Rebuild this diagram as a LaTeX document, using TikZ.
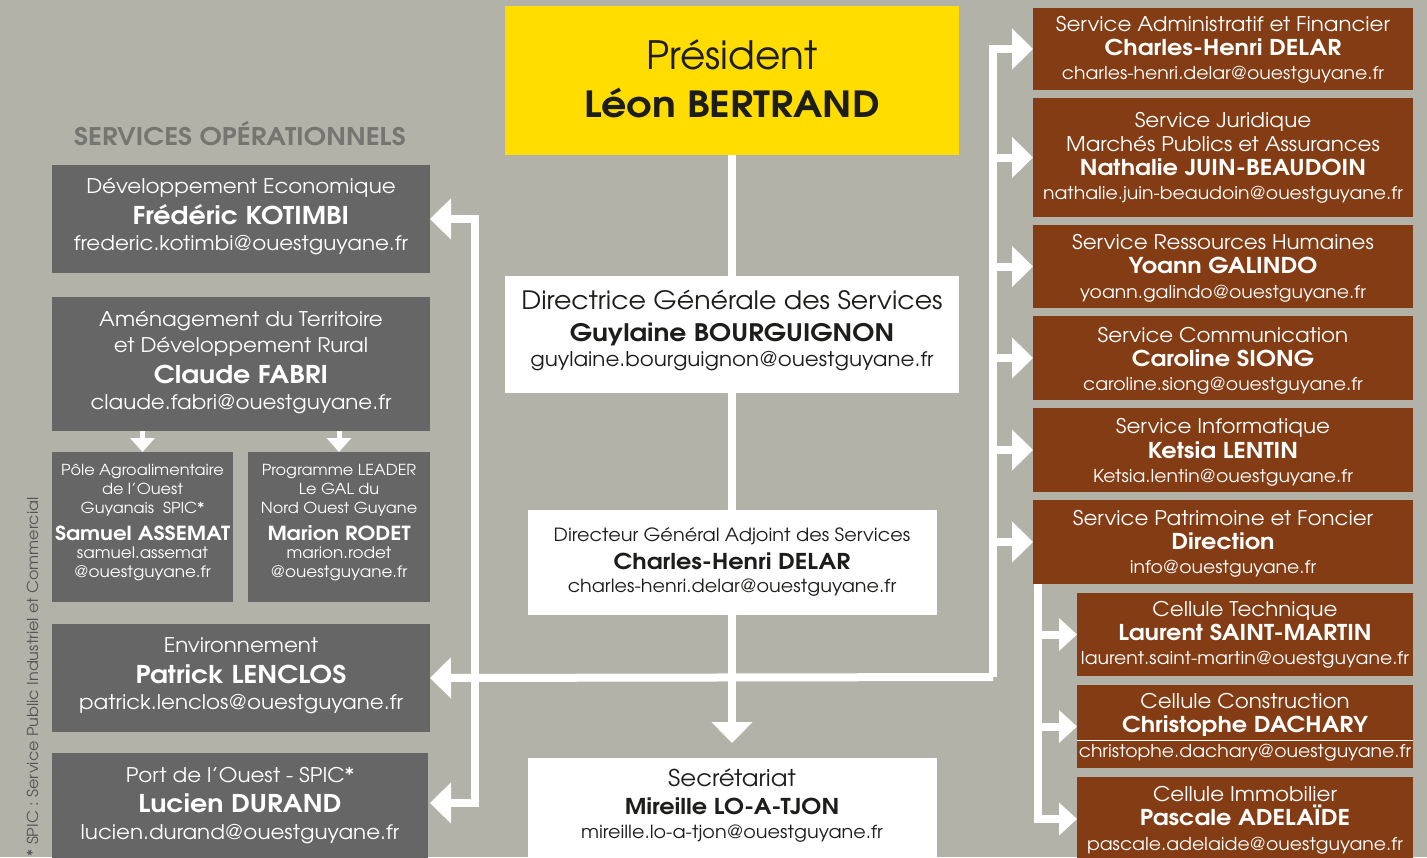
\documentclass[tikz,border=0pt]{standalone}
\usepackage{fontspec}
\setmainfont{texgyreadventor}[Extension=.otf, UprightFont=*-regular, BoldFont=*-bold, UprightFeatures={FakeStretch=1.06}, BoldFeatures={FakeStretch=1.1}]
\newfontfamily\plainfont{texgyreadventor}[Extension=.otf, UprightFont=*-regular, BoldFont=*-bold, BoldFeatures={FakeStretch=1.1}]
\usetikzlibrary{arrows.meta}
\definecolor{bg}{RGB}{178,178,168}
\definecolor{yel}{RGB}{255,221,0}
\definecolor{brn}{RGB}{132,60,20}
\definecolor{dgray}{RGB}{102,102,102}
\definecolor{hdr}{RGB}{118,118,112}
\definecolor{ink}{RGB}{29,29,27}
\definecolor{note}{RGB}{85,85,85}
\tikzset{
  box/.style={rectangle, inner sep=0pt, outer sep=0pt, anchor=north west},
  gbox/.style={box, fill=dgray},
  bbox/.style={box, fill=brn},
  wbox/.style={box, fill=white},
  ybox/.style={box, fill=yel},
  conn/.style={draw=white, line width=8pt, line join=miter, -{Triangle[length=21pt,width=40pt]}},
  conns/.style={draw=white, line width=8pt, line join=miter, -{Triangle[length=18pt,width=32pt]}},
  connt/.style={draw=white, line width=5pt, -{Triangle[length=14pt,width=24pt]}},
  tx/.style={anchor=base, inner sep=0pt},
  rt/.style={tx, text=white, font=\fontsize{20.2}{24}\selectfont},
  rn/.style={tx, text=white, font=\fontsize{21.8}{24}\selectfont\bfseries},
  re/.style={tx, text=white, font=\fontsize{17.75}{20}\selectfont},
  lt/.style={tx, text=white, font=\fontsize{20.2}{24}\selectfont},
  ln/.style={tx, text=white, font=\fontsize{24.5}{28}\selectfont\bfseries},
  le/.style={tx, text=white, font=\fontsize{20.2}{24}\selectfont},
  st/.style={tx, text=white, font=\fontsize{15.2}{18}\selectfont},
  se/.style={tx, text=white, font=\fontsize{15.85}{18}\selectfont},
  sn/.style={tx, text=white, font=\fontsize{19.4}{24}\selectfont\bfseries},
  dt/.style={tx, text=ink, font=\fontsize{25.3}{28}\selectfont},
  dn/.style={tx, text=ink, font=\fontsize{24.1}{28}\selectfont\bfseries},
  de/.style={tx, text=ink, font=\fontsize{20.2}{24}\selectfont},
  gt/.style={tx, text=ink, font=\fontsize{18.2}{20}\selectfont},
  gn/.style={tx, text=ink, font=\fontsize{21.8}{24}\selectfont\bfseries},
  ge/.style={tx, text=ink, font=\fontsize{18.1}{20}\selectfont},
  prt/.style={tx, text=ink, font=\plainfont\fontsize{39}{44}\selectfont},
  prn/.style={tx, text=ink, font=\fontsize{36}{40}\selectfont\bfseries},
}
\begin{document}
\begin{tikzpicture}[x=1pt,y=-1pt]
\fill[bg] (0,0) rectangle (1427,857);
\useasboundingbox (0,0) rectangle (1427,857);
% ---- boxes ----
\node[ybox, minimum width=454, minimum height=149] (pres) at (505,6) {};
\node[wbox, minimum width=454, minimum height=117] (dgs) at (505,276) {};
\node[wbox, minimum width=409, minimum height=105] (dga) at (528,510) {};
\node[wbox, minimum width=409, minimum height=105] (sec) at (528,758) {};
\node[gbox, minimum width=378, minimum height=108] (dev) at (52,165) {};
\node[gbox, minimum width=378, minimum height=134] (amen) at (52,297) {};
\node[gbox, minimum width=181, minimum height=150] (pole) at (52,452) {};
\node[gbox, minimum width=182, minimum height=150] (lead) at (248,452) {};
\node[gbox, minimum width=378, minimum height=108] (env) at (52,624) {};
\node[gbox, minimum width=376, minimum height=110] (port) at (52,753) {};
\node[bbox, minimum width=380, minimum height=82] (saf) at (1033,8) {};
\node[bbox, minimum width=380, minimum height=119] (sj) at (1033,98) {};
\node[bbox, minimum width=380, minimum height=83] (rh) at (1033,225) {};
\node[bbox, minimum width=380, minimum height=84] (com) at (1033,316) {};
\node[bbox, minimum width=380, minimum height=84] (inf) at (1033,408) {};
\node[bbox, minimum width=380, minimum height=84] (pat) at (1033,500) {};
\node[bbox, minimum width=336, minimum height=83] (ct) at (1077,593) {};
\node[bbox, minimum width=336, minimum height=83] (cc) at (1077,685) {};
\node[bbox, minimum width=336, minimum height=84] (ci) at (1077,777) {};
% ---- connectors ----
\coordinate (secarr) at (732,743);
\coordinate (hub) at (993,677);
\coordinate (lvx) at (475,0);
\coordinate (portarr) at (430,803);
\coordinate (subx) at (1038,0);
\draw[conn] (pres.south) -- (secarr);
\draw[conn] (hub) -- (env.east);
\draw[conn] (hub) |- (saf.west);
\foreach \b in {sj,rh,com,inf,pat}{\draw[conn] (hub |- \b.west) -- (\b.west);}
\draw[conn, {Triangle[length=21pt,width=40pt]}-{Triangle[length=21pt,width=40pt]}] (dev.east) -| (lvx |- portarr) -- (portarr);
\draw[conns] (subx |- pat.south) |- (ci.west);
\draw[conns] (subx |- ct.west) -- (ct.west);
\draw[conns] (subx |- cc.west) -- (cc.west);
\draw[connt] (pole.north |- amen.south) -- (pole.north);
\draw[connt] (lead.north |- amen.south) -- (lead.north);
% redraw boxes crossed by centre line
\node[wbox, minimum width=454, minimum height=117] (dgs2) at (505,276) {};
\node[wbox, minimum width=409, minimum height=105] (dga2) at (528,510) {};
\draw[white, line width=0.8pt] (cc.west |- 0,740) -- (cc.east |- 0,740);
% ---- texts ----
\node[prt] (p1) at (732,69) {Président};
\node[prn] (p2) at (732,117) {Léon BERTRAND};
\node[dt] (d1) at (732,309) {Directrice Générale des Services};
\node[dn] (d2) at (732,341) {Guylaine BOURGUIGNON};
\node[de] (d3) at (732,366) {guylaine.bourguignon@ouestguyane.fr};
\node[gt] (a1) at (732,541) {Directeur Général Adjoint des Services};
\node[gn] (a2) at (732,569) {Charles-Henri DELAR};
\node[ge] (a3) at (732,592) {charles-henri.delar@ouestguyane.fr};
\node[dt, font=\fontsize{23.1}{26}\selectfont] (s1) at (732,786) {Secrétariat};
\node[gn] (s2) at (732,814) {Mireille LO-A-TJON};
\node[ge] (s3) at (732,838) {mireille.lo-a-tjon@ouestguyane.fr};
\node[tx, text=hdr, font=\fontsize{24.3}{28}\selectfont\bfseries] (hd) at (240,145) {SERVICES OPÉRATIONNELS};
\node[tx, text=note, font=\fontsize{15.1}{18}\selectfont, rotate=90, anchor=base west] (nt) at (38,856.5) {*\ SPIC : Service Public Industriel et Commercial};
% left
\node[lt] (dv1) at (241,193) {Développement Economique};
\node[ln] (dv2) at (241,224) {Frédéric KOTIMBI};
\node[le] (dv3) at (241,250) {frederic.kotimbi@ouestguyane.fr};
\node[lt] (am1) at (241,326) {Aménagement du Territoire};
\node[lt] (am2) at (241,352) {et Développement Rural};
\node[ln] (am3) at (241,383) {Claude FABRI};
\node[le] (am4) at (241,409) {claude.fabri@ouestguyane.fr};
\node[st] (po1) at (142.5,475) {Pôle Agroalimentaire};
\node[st] (po2) at (142.5,494) {de l’Ouest};
\node[st] (po3) at (142.5,513) {Guyanais\ \ SPIC*};
\node[sn] (po4) at (142.5,540) {Samuel ASSEMAT};
\node[se] (po5) at (142.5,558) {samuel.assemat};
\node[se] (po6) at (142.5,577) {@ouestguyane.fr};
\node[st] (le1) at (339,475) {Programme LEADER};
\node[st] (le2) at (339,494) {Le GAL du};
\node[st] (le3) at (339,513) {Nord Ouest Guyane};
\node[sn] (le4) at (339,540) {Marion RODET};
\node[se] (le5) at (339,558) {marion.rodet};
\node[se] (le6) at (339,577) {@ouestguyane.fr};
\node[lt] (en1) at (241,652) {Environnement};
\node[ln] (en2) at (241,683) {Patrick LENCLOS};
\node[le] (en3) at (241,709) {patrick.lenclos@ouestguyane.fr};
\node[lt] (pr1) at (240,782) {Port de l’Ouest - SPIC*};
\node[ln] (pr2) at (240,812) {Lucien DURAND};
\node[le] (pr3) at (240,839) {lucien.durand@ouestguyane.fr};
% right
\node[rt] (r11) at (1223,31) {Service Administratif et Financier};
\node[rn] (r12) at (1223,55) {Charles-Henri DELAR};
\node[re] (r13) at (1223,79) {charles-henri.delar@ouestguyane.fr};
\node[rt] (r21) at (1223,127) {Service Juridique};
\node[rt] (r22) at (1223,151) {Marchés Publics et Assurances};
\node[rn] (r23) at (1223,175) {Nathalie JUIN-BEAUDOIN};
\node[re] (r24) at (1223,199) {nathalie.juin-beaudoin@ouestguyane.fr};
\node[rt] (r31) at (1223,249) {Service Ressources Humaines};
\node[rn] (r32) at (1223,273) {Yoann GALINDO};
\node[re] (r33) at (1223,298) {yoann.galindo@ouestguyane.fr};
\node[rt] (r41) at (1223,342) {Service Communication};
\node[rn] (r42) at (1223,366) {Caroline SIONG};
\node[re] (r43) at (1223,390) {caroline.siong@ouestguyane.fr};
\node[rt] (r51) at (1223,433) {Service Informatique};
\node[rn] (r52) at (1223,458) {Ketsia LENTIN};
\node[re] (r53) at (1223,482) {Ketsia.lentin@ouestguyane.fr};
\node[rt] (r61) at (1223,525) {Service Patrimoine et Foncier};
\node[rn] (r62) at (1223,549) {Direction};
\node[re] (r63) at (1223,573) {info@ouestguyane.fr};
\node[rt] (r71) at (1245,616) {Cellule Technique};
\node[rn] (r72) at (1245,640) {Laurent SAINT-MARTIN};
\node[re] (r73) at (1245,664) {laurent.saint-martin@ouestguyane.fr};
\node[rt] (r81) at (1245,708) {Cellule Construction};
\node[rn] (r82) at (1245,732) {Christophe DACHARY};
\node[re] (r83) at (1245,757) {christophe.dachary@ouestguyane.fr};
\node[rt] (r91) at (1245,801) {Cellule Immobilier};
\node[rn] (r92) at (1245,825) {Pascale ADELAÏDE};
\node[re] (r93) at (1245,850) {pascale.adelaide@ouestguyane.fr};
\end{tikzpicture}
\end{document}
